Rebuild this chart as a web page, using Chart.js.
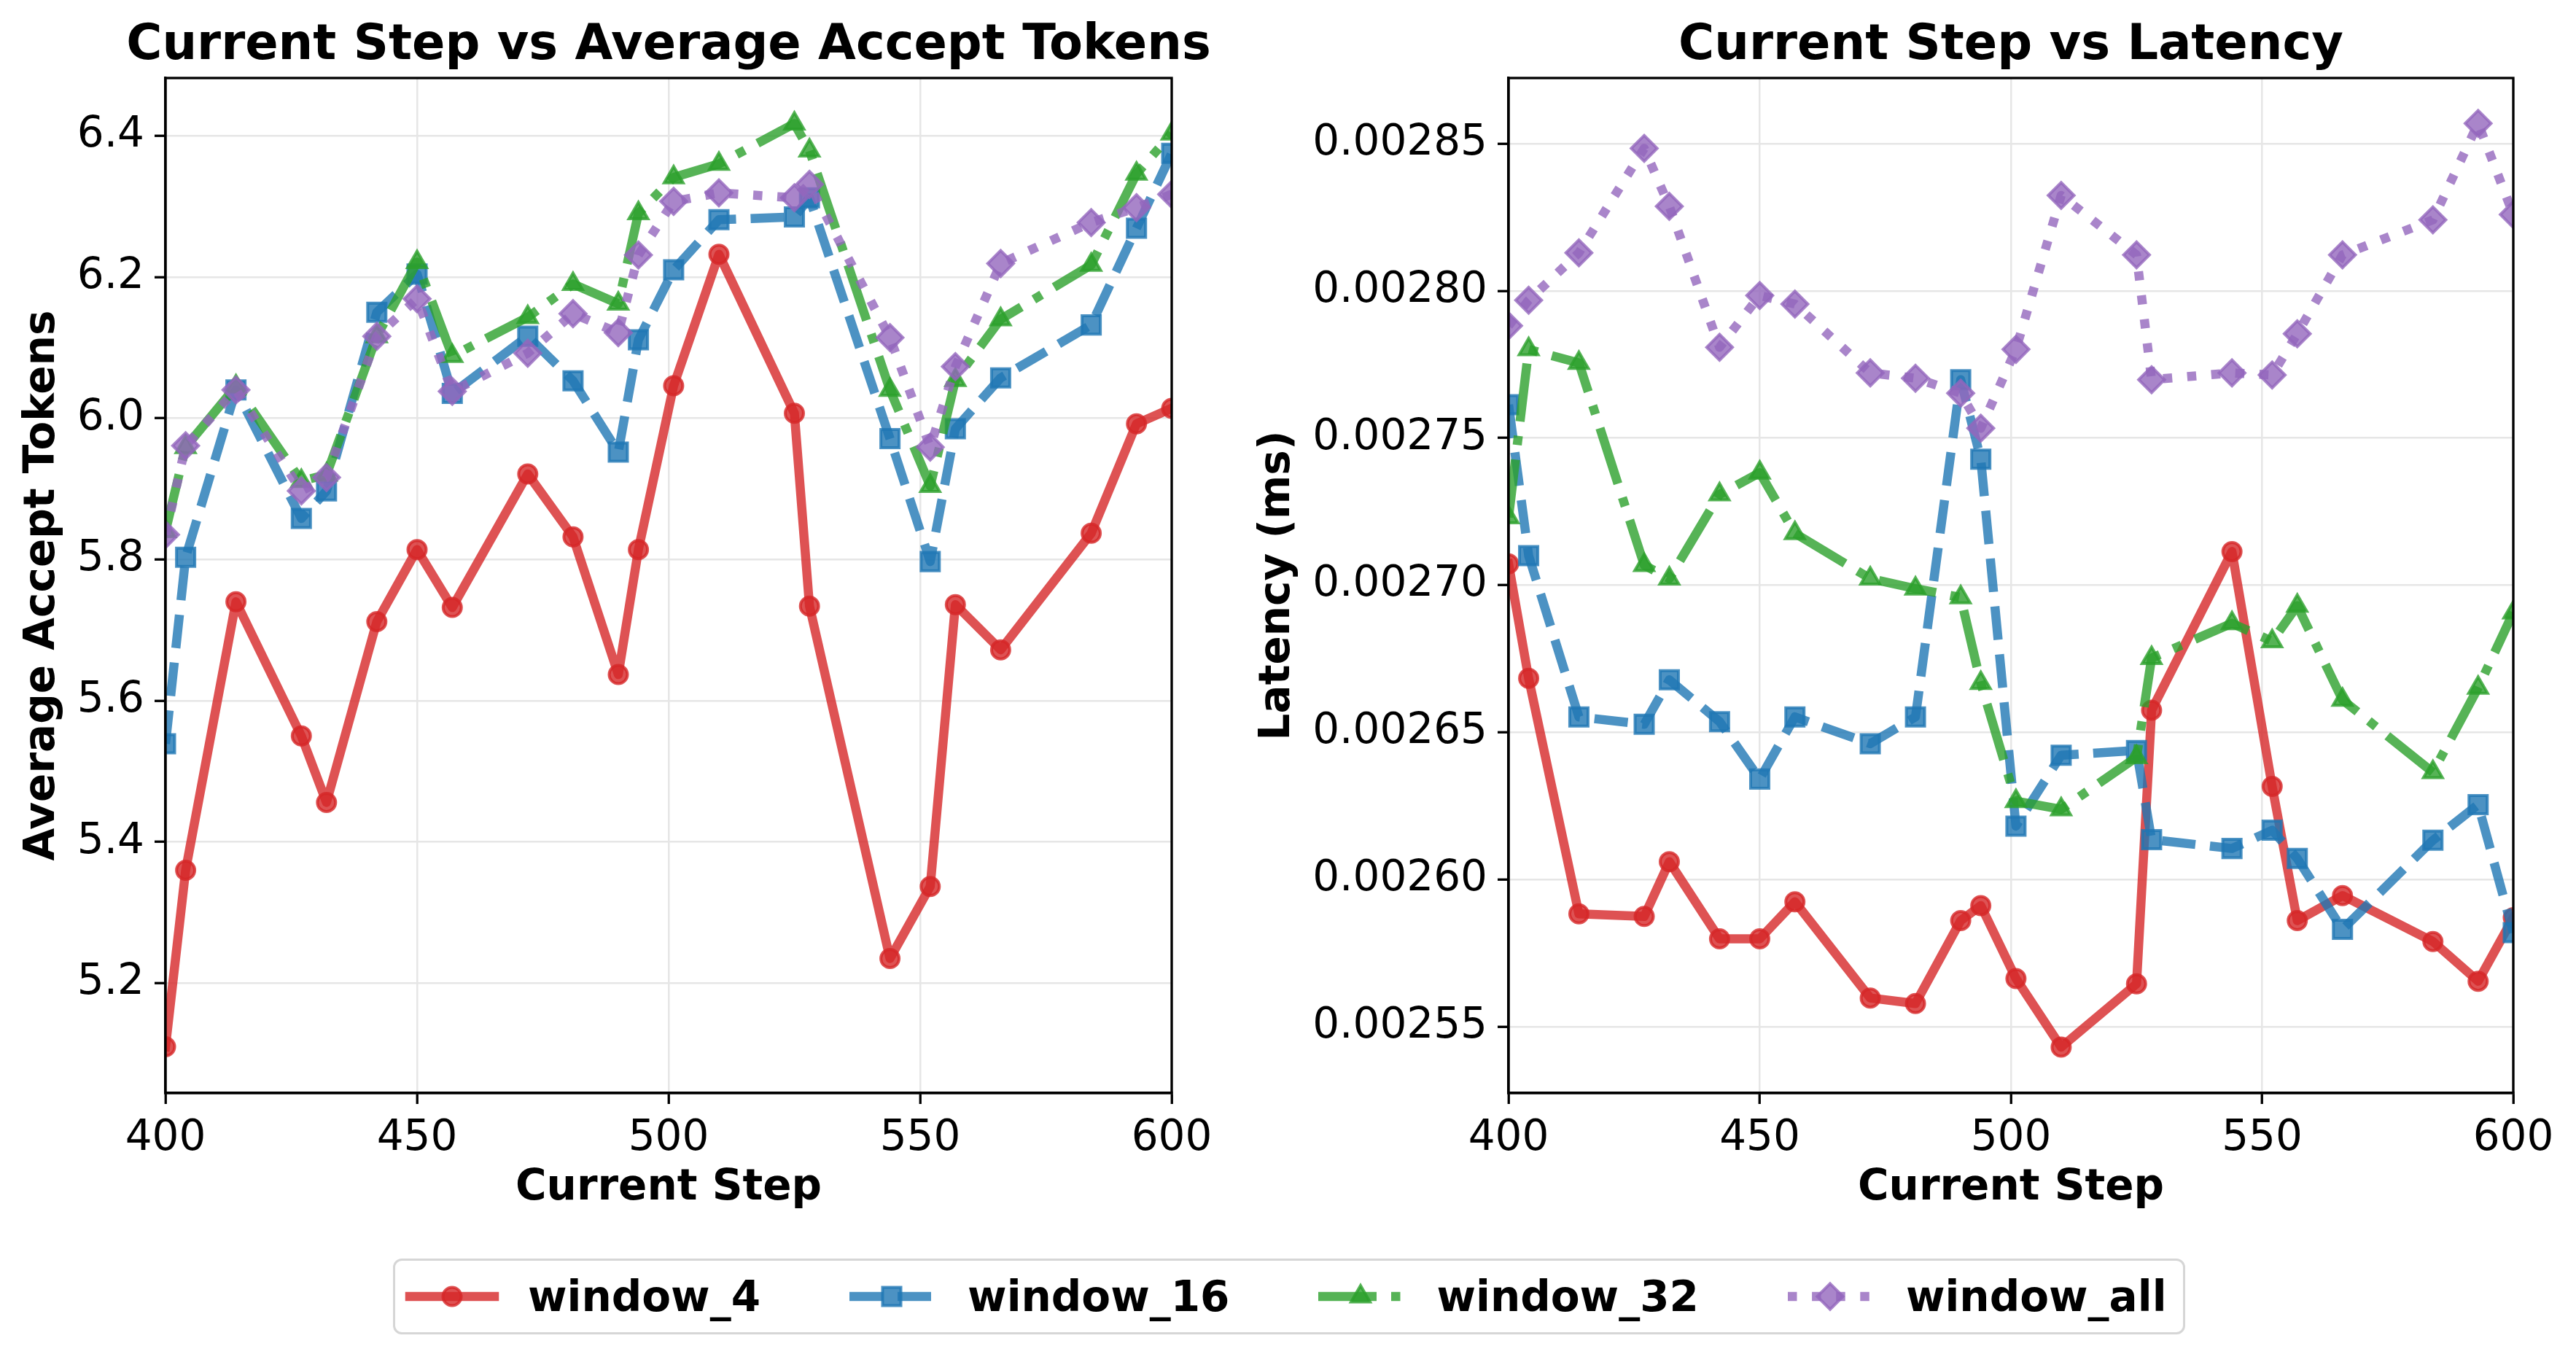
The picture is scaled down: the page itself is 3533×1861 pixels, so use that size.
<!DOCTYPE html>
<html>
<head>
<meta charset="utf-8">
<script src="https://cdn.jsdelivr.net/npm/chart.js@4.4.1/dist/chart.umd.min.js"></script>
<style>
  body { margin: 0; background: #fff; width: 3533px; height: 1861px; position: relative; overflow: hidden; font-family: 'DejaVu Sans', sans-serif; }
  .title { position: absolute; top: 25px; font-weight: bold; font-size: 67px; line-height: 67px; white-space: nowrap; transform: translateX(-50%); }
  #leftCanvas { position: absolute; left: 0; top: 0; }
  #rightCanvas { position: absolute; left: 1700px; top: 0; }
  #legend { position: absolute; left: 539px; top: 1726px; height: 104px; box-sizing: border-box; border: 3px solid #d6d6d6; border-radius: 12px; display: flex; align-items: center; padding: 0 22px 0 20px; background: #fff; }
  .item { display: flex; align-items: center; margin-right: 122px; }
  .item:last-child { margin-right: 0; }
  .item canvas { margin-left: -7px; margin-right: 39px; }
  .item span { font-weight: bold; font-size: 58px; line-height: 70px; }
</style>
</head>
<body>
<div class="title" style="left:917px">Current Step vs Average Accept Tokens</div>
<div class="title" style="left:2758px">Current Step vs Latency</div>
<canvas id="leftCanvas" width="1700" height="1700"></canvas>
<canvas id="rightCanvas" width="1833" height="1700"></canvas>
<div id="legend"></div>
<script>
// x values shared by every series
const steps = [400, 404, 414, 427, 432, 442, 450, 457, 472, 481, 490, 494, 501, 510, 525, 528, 544, 552, 557, 566, 584, 593, 600];
const seriesNames = ['window_4', 'window_16', 'window_32', 'window_all'];

// average accept tokens
const accept4   = [5.110, 5.360, 5.740, 5.550, 5.456, 5.712, 5.814, 5.732, 5.921, 5.832, 5.637, 5.814, 6.046, 6.232, 6.007, 5.734, 5.235, 5.337, 5.736, 5.672, 5.837, 5.992, 6.014];
const accept16  = [5.539, 5.803, 6.040, 5.858, 5.897, 6.150, 6.204, 6.035, 6.116, 6.053, 5.952, 6.111, 6.210, 6.281, 6.285, 6.312, 5.971, 5.797, 5.985, 6.057, 6.132, 6.269, 6.375];
const accept32  = [5.840, 5.959, 6.045, 5.911, 5.920, 6.116, 6.221, 6.088, 6.143, 6.190, 6.162, 6.290, 6.341, 6.360, 6.417, 6.379, 6.040, 5.904, 6.054, 6.140, 6.217, 6.346, 6.403];
const acceptAll = [5.835, 5.961, 6.040, 5.897, 5.916, 6.116, 6.169, 6.038, 6.092, 6.148, 6.121, 6.231, 6.307, 6.319, 6.312, 6.331, 6.114, 5.959, 6.073, 6.219, 6.277, 6.298, 6.317];

// latency
const latency4   = [0.0027072, 0.0026683, 0.0025883, 0.0025874, 0.0026060, 0.0025798, 0.0025798, 0.0025924, 0.0025597, 0.0025578, 0.0025860, 0.0025911, 0.0025663, 0.0025430, 0.0025645, 0.0026575, 0.0027114, 0.0026316, 0.0025860, 0.0025945, 0.0025789, 0.0025654, 0.0025870];
const latency16  = [0.0027613, 0.0027100, 0.0026552, 0.0026527, 0.0026678, 0.0026536, 0.0026341, 0.0026552, 0.0026461, 0.0026552, 0.0027698, 0.0027428, 0.0026181, 0.0026422, 0.0026438, 0.0026135, 0.0026105, 0.0026167, 0.0026071, 0.0025830, 0.0026133, 0.0026254, 0.0025819];
const latency32  = [0.0027230, 0.0027801, 0.0027755, 0.0027068, 0.0027022, 0.0027308, 0.0027382, 0.0027176, 0.0027022, 0.0026988, 0.0026958, 0.0026667, 0.0026266, 0.0026238, 0.0026415, 0.0026752, 0.0026870, 0.0026809, 0.0026930, 0.0026610, 0.0026364, 0.0026651, 0.0026907];
const latencyAll = [0.0027881, 0.0027968, 0.0028129, 0.0028484, 0.0028287, 0.0027808, 0.0027984, 0.0027955, 0.0027721, 0.0027703, 0.0027652, 0.0027533, 0.0027801, 0.0028324, 0.0028122, 0.0027698, 0.0027721, 0.0027714, 0.0027854, 0.0028122, 0.0028241, 0.0028569, 0.0028259];

// tick labels
const stepTicks = [400, 450, 500, 550, 600];
const acceptTicks = [5.2, 5.4, 5.6, 5.8, 6.0, 6.2, 6.4];
const latencyTicks = [0.00255, 0.00260, 0.00265, 0.00270, 0.00275, 0.00280, 0.00285];

const styles = [
  { rgb: '214,39,40',   dash: [],               cap: 'square', point: 'circle',   radius: 12.5 },
  { rgb: '31,119,180',  dash: [46, 20],         cap: 'butt',   point: 'rect',     radius: 17.7 },
  { rgb: '44,160,44',   dash: [80, 20, 12.5, 20], cap: 'butt', point: 'triangle', radius: 15 },
  { rgb: '148,103,189', dash: [12.5, 20.6],     cap: 'butt',   point: 'rectRot',  radius: 17.7 }
];
const LW = 12.5;

Chart.defaults.font.family = "'DejaVu Sans', sans-serif";
Chart.defaults.color = '#000';

function makeDatasets(list) {
  return list.map((vals, i) => {
    const s = styles[i];
    const c = `rgba(${s.rgb},0.8)`;
    return {
      label: seriesNames[i],
      data: steps.map((x, j) => ({ x: x, y: vals[j] })),
      borderColor: c,
      backgroundColor: c,
      borderWidth: LW,
      borderDash: s.dash,
      borderCapStyle: s.cap,
      borderJoinStyle: 'round',
      tension: 0,
      pointStyle: s.point,
      pointRadius: s.radius,
      pointBorderWidth: 4,
      pointBackgroundColor: c,
      pointBorderColor: c,
      order: 4 - i
    };
  });
}

const framePlugin = {
  id: 'frame',
  afterDatasetsDraw(chart) {
    const { ctx, chartArea: a } = chart;
    ctx.save();
    ctx.strokeStyle = '#000';
    ctx.lineWidth = 3.3;
    ctx.strokeRect(a.left, a.top, a.right - a.left, a.bottom - a.top);
    ctx.restore();
  }
};

function makeChart(id, datasets, opt) {
  return new Chart(document.getElementById(id), {
    type: 'line',
    data: { datasets: datasets },
    plugins: [framePlugin],
    options: {
      responsive: false,
      animation: false,
      layout: { padding: { top: 107, right: opt.rightPad, left: 0, bottom: 0 } },
      plugins: { legend: { display: false }, tooltip: { enabled: false } },
      scales: {
        x: {
          type: 'linear',
          min: 400,
          max: 600,
          afterBuildTicks: s => { s.ticks = stepTicks.map(v => ({ value: v })); },
          afterFit: s => { s.height = 201; },
          ticks: { font: { size: 58 }, padding: 13, maxRotation: 0, autoSkip: false },
          grid: { color: '#e6e6e6', lineWidth: 2.5, tickLength: 15, tickColor: '#000', tickWidth: 3.3 },
          border: { color: '#000', width: 3.3 },
          title: { display: true, text: 'Current Step', font: { size: 58, weight: 'bold' }, padding: { top: 0, bottom: 35 } }
        },
        y: {
          min: opt.yMin,
          max: opt.yMax,
          afterBuildTicks: s => { s.ticks = opt.yTicks.map(v => ({ value: v })); },
          afterFit: s => { s.width = opt.yWidth; },
          ticks: { font: { size: 58 }, padding: 14, autoSkip: false, callback: v => v.toFixed(opt.digits) },
          grid: { color: '#e6e6e6', lineWidth: 2.5, tickLength: 15, tickColor: '#000', tickWidth: 3.3 },
          border: { color: '#000', width: 3.3 },
          title: { display: true, text: opt.yTitle, font: { size: 58, weight: 'bold' }, padding: { top: opt.titlePad, bottom: 0 } }
        }
      }
    }
  });
}

makeChart('leftCanvas', makeDatasets([accept4, accept16, accept32, acceptAll]), {
  yMin: 5.0445, yMax: 6.4816, yTicks: acceptTicks, digits: 1,
  yTitle: 'Average Accept Tokens', yWidth: 227, titlePad: 24, rightPad: 93
});

makeChart('rightCanvas', makeDatasets([latency4, latency16, latency32, latencyAll]), {
  yMin: 0.0025274, yMax: 0.0028723, yTicks: latencyTicks, digits: 5,
  yTitle: 'Latency (ms)', yWidth: 369, titlePad: 18, rightPad: 86
});

// legend below both panels
function drawMarker(ctx, shape, x, y, r) {
  ctx.beginPath();
  if (shape === 'circle') {
    ctx.arc(x, y, r, 0, Math.PI * 2);
  } else if (shape === 'rect') {
    const h = r * Math.SQRT1_2;
    ctx.rect(x - h, y - h, 2 * h, 2 * h);
  } else if (shape === 'triangle') {
    ctx.moveTo(x, y - r);
    ctx.lineTo(x + r * Math.sin(Math.PI * 2 / 3), y + r / 2);
    ctx.lineTo(x - r * Math.sin(Math.PI * 2 / 3), y + r / 2);
    ctx.closePath();
  } else {
    ctx.moveTo(x, y - r);
    ctx.lineTo(x + r, y);
    ctx.lineTo(x, y + r);
    ctx.lineTo(x - r, y);
    ctx.closePath();
  }
  ctx.fill();
  ctx.stroke();
}

const legend = document.getElementById('legend');
seriesNames.forEach((name, i) => {
  const s = styles[i];
  const c = `rgba(${s.rgb},0.8)`;
  const item = document.createElement('div');
  item.className = 'item';
  const cv = document.createElement('canvas');
  cv.width = 130; cv.height = 60;
  const ctx = cv.getContext('2d');
  ctx.strokeStyle = c;
  ctx.lineWidth = LW;
  ctx.lineCap = s.cap;
  ctx.setLineDash(s.dash);
  ctx.beginPath();
  ctx.moveTo(7, 30);
  ctx.lineTo(123, 30);
  ctx.stroke();
  ctx.setLineDash([]);
  ctx.fillStyle = c;
  ctx.lineWidth = 4;
  drawMarker(ctx, s.point, 65, 30, s.radius);
  const label = document.createElement('span');
  label.textContent = name;
  item.appendChild(cv);
  item.appendChild(label);
  legend.appendChild(item);
});
</script>
</body>
</html>
